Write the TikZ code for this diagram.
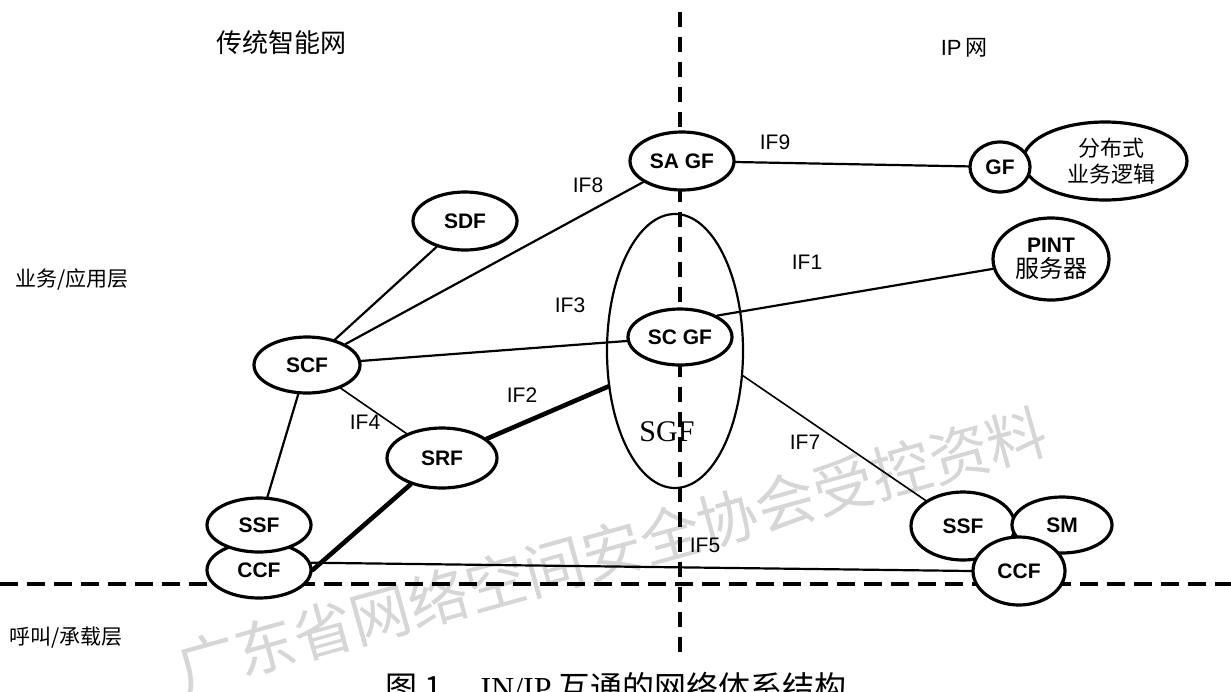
\documentclass[tikz,border=0pt]{standalone}
\usepackage{fontspec}
\setmainfont{Liberation Sans}
\newfontfamily\cjk{Noto Sans CJK SC}
\newfontfamily\serifrm{Liberation Serif}
\usetikzlibrary{shapes.geometric}
\begin{document}
\begin{tikzpicture}[x=0.5pt,y=-0.5pt,line join=round,line cap=round]
	\tikzset{fe/.style={ellipse,draw,line width=1.6pt,fill=white,inner sep=0pt,font=\bfseries\fontsize{10.5}{12.5}\selectfont},
		iflbl/.style={font=\fontsize{10.5}{12}\selectfont},
		zhlbl/.style={font=\cjk\fontsize{10.5}{12}\selectfont},
		link/.style={line width=1.1pt},
		lightlink/.style={line width=0.8pt},
		heavylink/.style={line width=2.3pt},
		divider/.style={line width=1.7pt,line cap=butt}}
	\useasboundingbox (0,0) rectangle (1231,691);
	% watermark
	\node[text=gray!32,font=\cjk\fontsize{30}{30}\selectfont,rotate=15.5] (wm) at (612,550) {广东省网络空间安全协会受控资料};
	\node[ellipse,draw,line width=1.1pt,minimum width=68pt,minimum height=137pt,inner sep=0pt] (sgf) at (675,351) {};
	\node[font=\serifrm\fontsize{15}{15}\selectfont] (sgftxt) at (667,432) {SGF};
	% domain borders
	\coordinate (vtop) at (680,12);
	\coordinate (vbot) at (680,660);
	\coordinate (hleft) at (0,584);
	\coordinate (hright) at (1231,584);
	\draw[divider,dash pattern=on 7.5pt off 5pt] (vtop) -- (vbot);
	\draw[divider,dash pattern=on 9pt off 4.5pt] (hleft) -- (hright);
	% functional entities
	\node[fe,minimum width=52pt,minimum height=29pt] (sagf) at (682,161) {SA GF};
	\node[fe,minimum width=82pt,minimum height=39pt,align=center,font=\cjk\fontsize{11}{13}\selectfont] (dsl) at (1105,161) {\hspace{6pt}分布式\\\hspace{6pt}业务逻辑};
	\node[fe,minimum width=30pt,minimum height=25pt] (gf) at (1000,167) {GF};
	\node[fe,minimum width=58pt,minimum height=41pt,align=center] (pint) at (1051,259) {PINT\\{\cjk\mdseries\fontsize{12}{12.5}\selectfont 服务器}};
	\node[fe,minimum width=52pt,minimum height=28pt] (scgf) at (680,337) {SC GF};
	\node[fe,minimum width=52pt,minimum height=29pt] (sdf) at (465,221) {SDF};
	\node[fe,minimum width=53pt,minimum height=28pt] (scf) at (307,365) {SCF};
	\node[fe,minimum width=55pt,minimum height=30pt] (srf) at (442,458) {SRF};
	\node[fe,minimum width=52pt,minimum height=28pt] (ccfl) at (259,570) {CCF};
	\node[fe,minimum width=52pt,minimum height=27pt] (ssfl) at (259,525) {SSF};
	\node[fe,minimum width=52pt,minimum height=34pt] (ssfr) at (963,526) {SSF};
	\node[fe,minimum width=50pt,minimum height=28pt] (sm) at (1062,525) {SM};
	\node[fe,minimum width=46pt,minimum height=34pt] (ccfr) at (1019,571) {CCF};
	% interfaces
	\draw[link] (sdf) -- (scf);
	\draw[link] (scf) -- (sagf);
	\draw[link] (scf) -- (scgf);
	\draw[link] (scgf.30) -- (pint);
	\draw[link] (sagf) -- (gf);
	\draw[link] (scf) -- (ssfl);
	\draw[lightlink] (scf) -- (srf);
	\draw[heavylink] (srf) -- (sgf.208);
	\draw[heavylink] (ccfl.east) -- (srf.220);
	\draw[lightlink] (sgf.340) -- (ssfr);
	\draw[link] (ccfl.8) -- (ccfr.west);
	\foreach \nm/\px/\py in {IF8/588/185,IF3/570/305,IF1/807/262,IF9/775/142,IF2/522/395,IF4/365/422,IF7/805/442,IF5/705/545}
		\node[iflbl] (lbl\nm) at (\px,\py) {\nm};
	% layer and domain names
	\node[font=\cjk\fontsize{13}{13}\selectfont] (tin) at (281,43) {传统智能网};
	\node[font=\fontsize{11}{11}\selectfont] (ipnet) at (964,48) {IP\,{\cjk 网}};
	\node[zhlbl] (svclayer) at (72,279) {业务/应用层};
	\node[zhlbl] (calllayer) at (66,638) {呼叫/承载层};
	\node[font=\cjk\fontsize{16}{16}\selectfont,anchor=north,inner sep=0pt] (cap) at (616,672) {图 1\hspace{1.2em}{\serifrm IN/IP} 互通的网络体系结构};
\end{tikzpicture}
\end{document}
